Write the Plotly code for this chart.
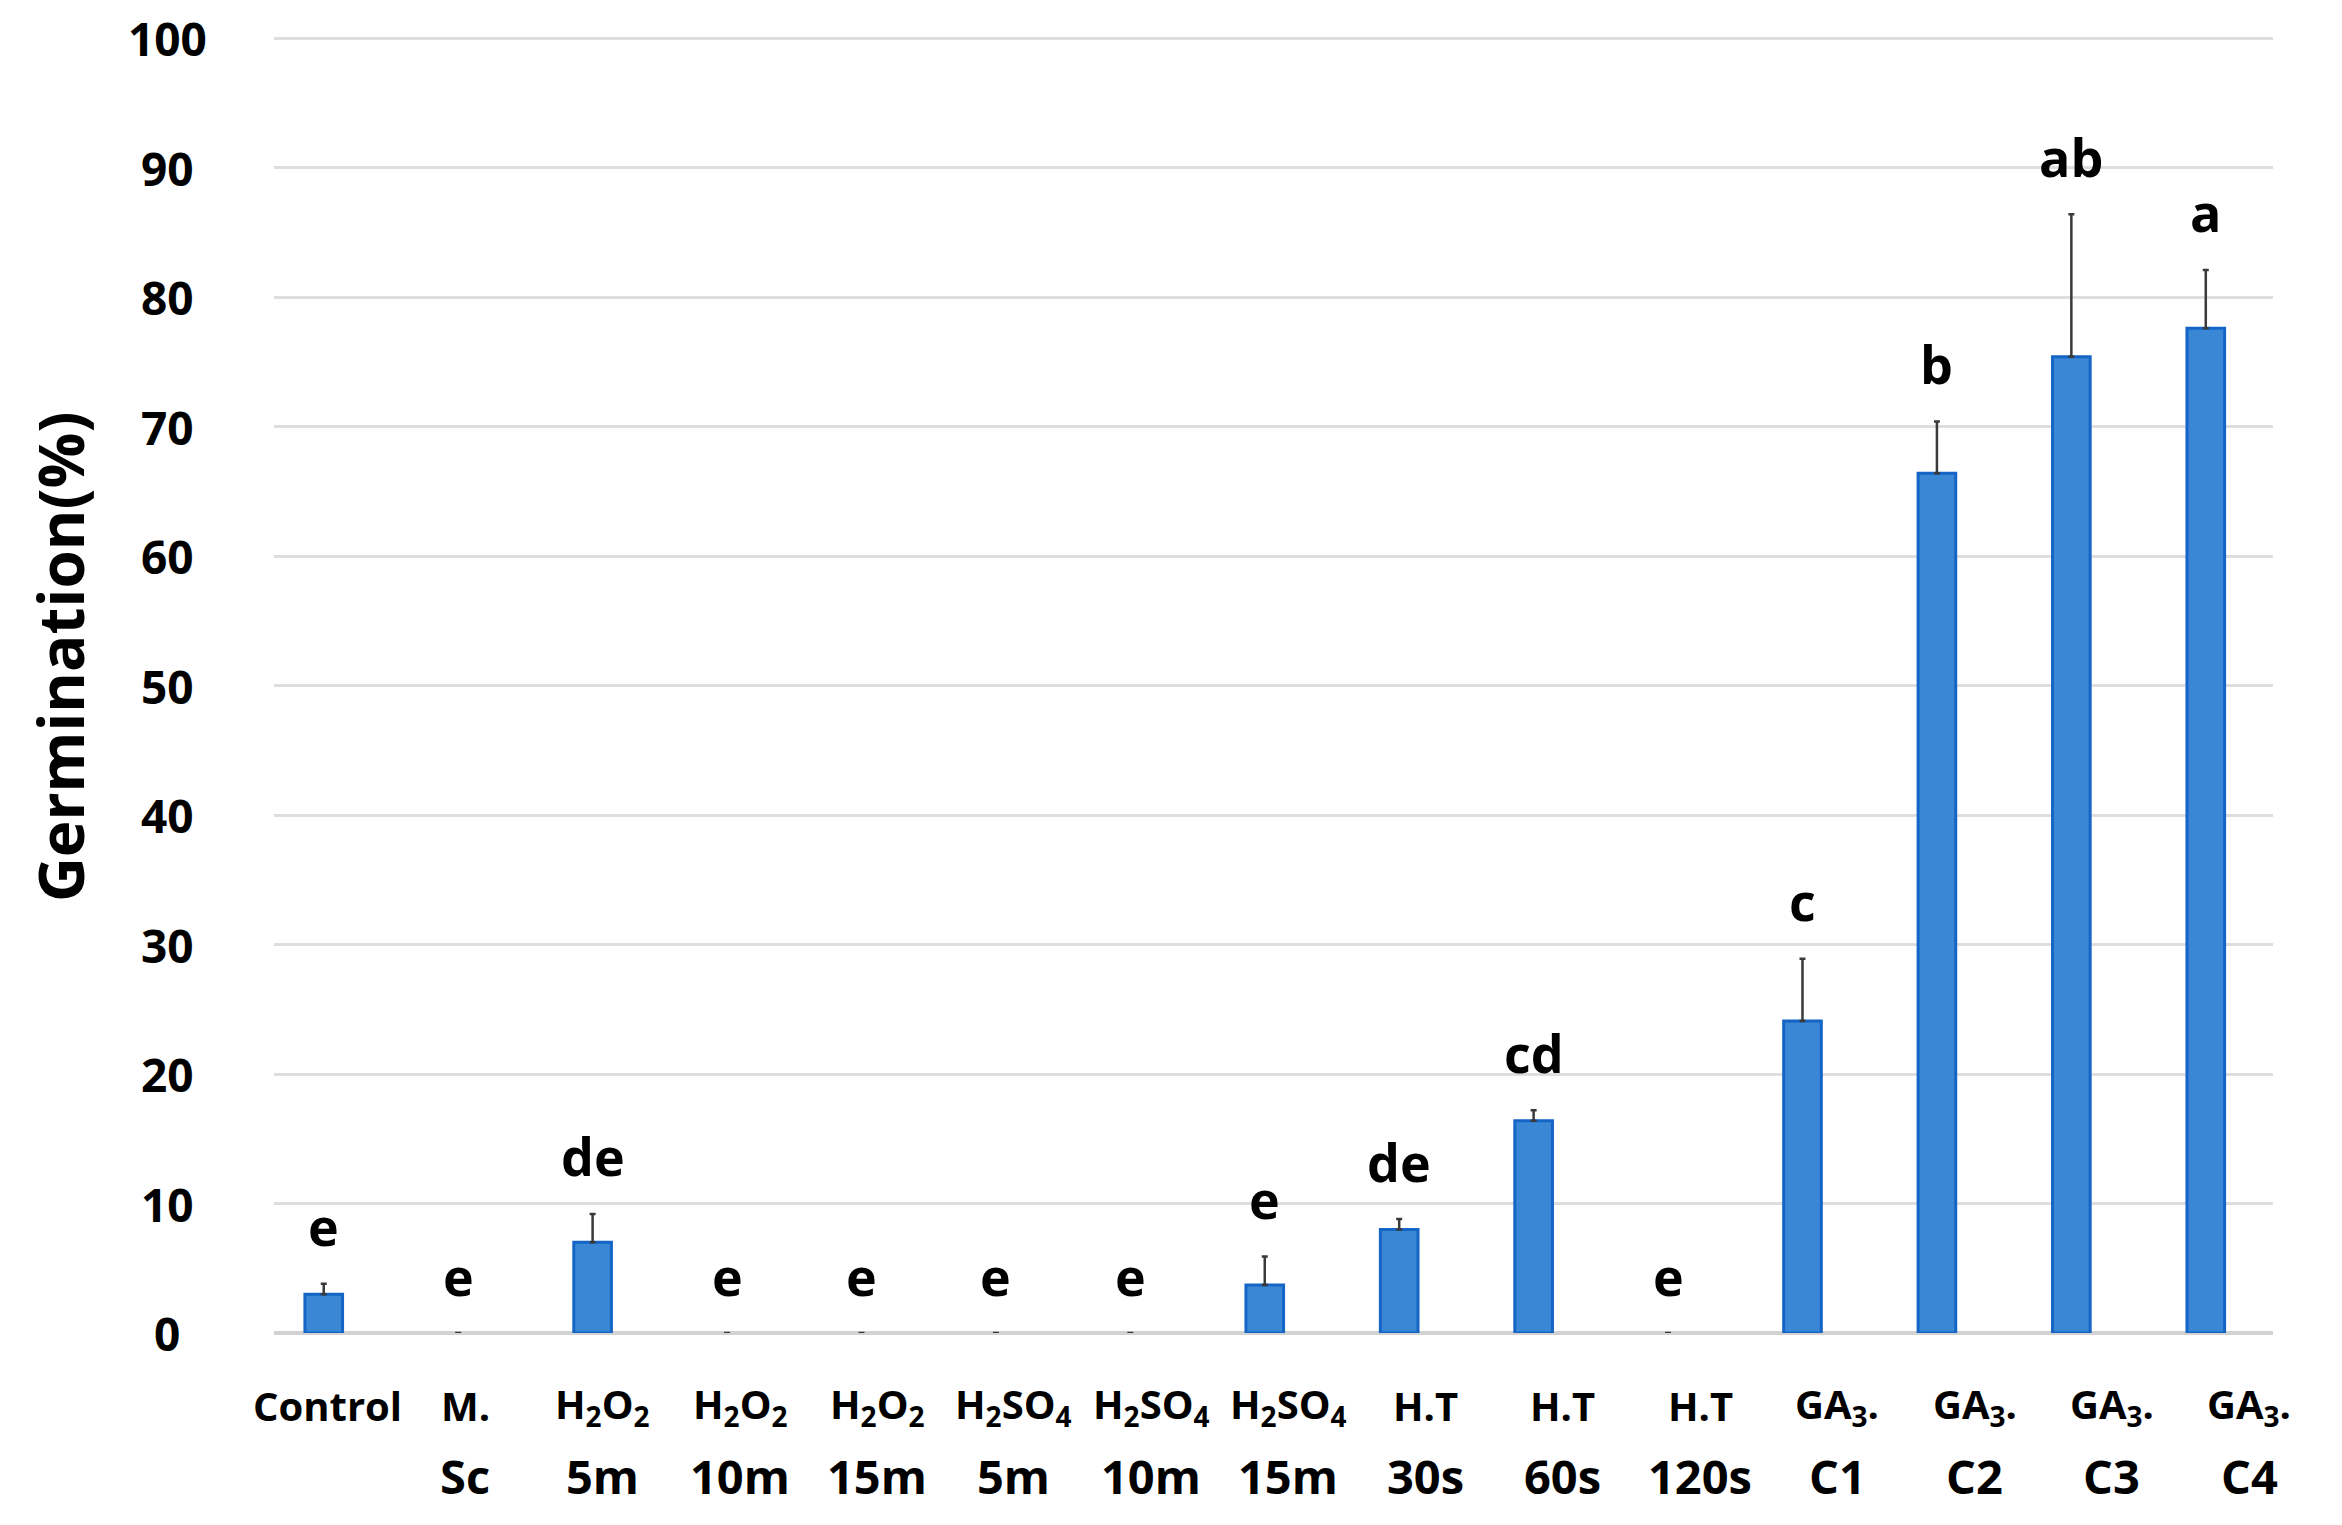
import plotly.graph_objects as go

line1 = ["Control", "M.", "H<sub>2</sub>O<sub>2</sub>", "H<sub>2</sub>O<sub>2</sub>", "H<sub>2</sub>O<sub>2</sub>",
         "H<sub>2</sub>SO<sub>4</sub>", "H<sub>2</sub>SO<sub>4</sub>", "H<sub>2</sub>SO<sub>4</sub>",
         "H.T", "H.T", "H.T", "GA<sub>3</sub>.", "GA<sub>3</sub>.", "GA<sub>3</sub>.", "GA<sub>3</sub>."]
line2 = ["", "Sc", "5m", "10m", "15m", "5m", "10m", "15m", "30s", "60s", "120s", "C1", "C2", "C3", "C4"]
categories = ["Control", "M.Sc", "H2O2 5m", "H2O2 10m", "H2O2 15m", "H2SO4 5m", "H2SO4 10m", "H2SO4 15m",
              "H.T 30s", "H.T 60s", "H.T 120s", "GA3 C1", "GA3 C2", "GA3 C3", "GA3 C4"]
germination = [3.0, 0, 7.0, 0, 0, 0, 0, 3.7, 8.0, 16.4, 0, 24.1, 66.4, 75.4, 77.6]
errors = [0.8, 0, 2.2, 0, 0, 0, 0, 2.2, 0.8, 0.8, 0, 4.8, 4.0, 11.0, 4.5]
letters = ["e", "e", "de", "e", "e", "e", "e", "e", "de", "cd", "e", "c", "b", "ab", "a"]
y_ticks = [0, 10, 20, 30, 40, 50, 60, 70, 80, 90, 100]

FONT = "Open Sans"
n = len(categories)

fig = go.Figure()
fig.add_trace(go.Bar(
    x=list(range(n)), y=germination, width=0.28,
    marker=dict(color="#3a87d5",
                line=dict(color="#1565c6", width=[3 if v > 0 else 0 for v in germination])),
    error_y=dict(type="data", symmetric=False, array=errors, arrayminus=[0] * n,
                 color="#3a3a3a", thickness=2.5, width=3),
    showlegend=False, hoverinfo="skip"))
# invisible helper trace so that the label axis exists
fig.add_trace(go.Scatter(x=[0], y=[None], xaxis="x2", mode="markers", showlegend=False, hoverinfo="skip"))

annotations = []
for i in range(n):
    top = germination[i] + errors[i]
    annotations.append(dict(x=i, y=top, xref="x", yref="y", text=letters[i], showarrow=False,
                            yanchor="middle", yshift=58,
                            font=dict(family=FONT, size=52, color="black", weight="bold")))
    annotations.append(dict(x=i, y=-0.056, xref="x2", yref="paper", text=line1[i], showarrow=False,
                            yanchor="middle",
                            font=dict(family=FONT, size=40, color="black", weight="bold")))
    if line2[i]:
        annotations.append(dict(x=i, y=-0.110, xref="x2", yref="paper", text=line2[i], showarrow=False,
                                yanchor="middle",
                                font=dict(family=FONT, size=47, color="black", weight="bold")))
for v in y_ticks:
    annotations.append(dict(x=-0.0533, y=v, xref="paper", yref="y", text=str(v), showarrow=False,
                            xanchor="center", yanchor="middle",
                            font=dict(family=FONT, size=46, color="black", weight="bold")))
annotations.append(dict(x=-0.107, y=0.52, xref="paper", yref="paper", text="Germination(%)", showarrow=False,
                        textangle=-90, xanchor="center", yanchor="middle",
                        font=dict(family=FONT, size=62, color="black", weight="bold")))

fig.update_layout(
    width=2342, height=1525,
    margin=dict(l=266, r=77, t=25, b=200),
    plot_bgcolor="white", paper_bgcolor="white",
    xaxis=dict(range=[-0.37, 14.5], showticklabels=False, showgrid=False, zeroline=False,
               showline=False, ticks=""),
    xaxis2=dict(range=[-0.392, 14.174], overlaying="x", visible=False, anchor="y"),
    yaxis=dict(range=[0, 100.4], tickvals=y_ticks, showgrid=True, gridcolor="#dedede", gridwidth=3,
               zeroline=True, zerolinecolor="#d2d2d2", zerolinewidth=4, showline=False,
               ticks="", showticklabels=False),
    annotations=annotations,
)

fig.write_html("out.html")
